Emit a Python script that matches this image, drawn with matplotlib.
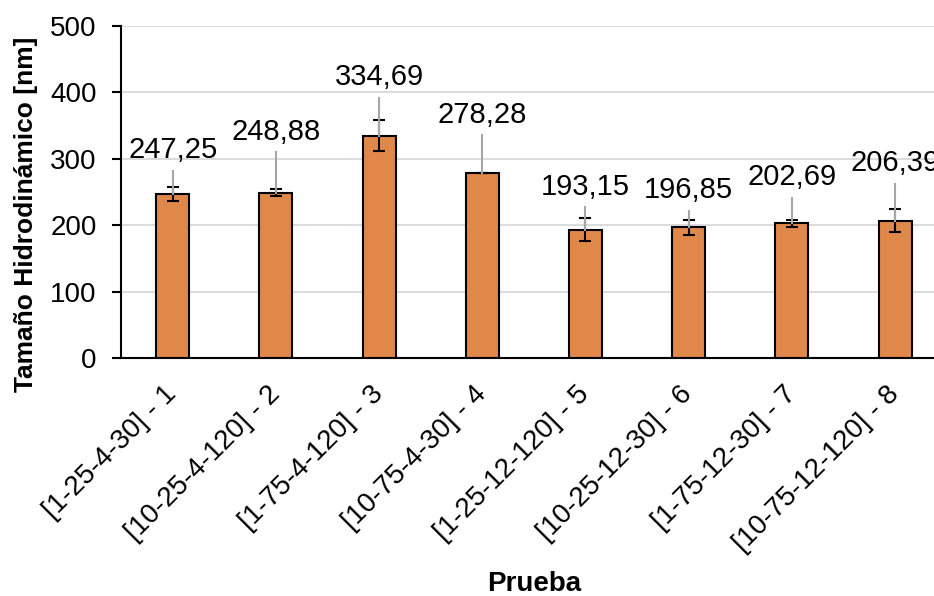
import numpy as np
import matplotlib
matplotlib.use("Agg")
import matplotlib.pyplot as plt

plt.rcParams['font.family'] = ['Liberation Sans', 'DejaVu Sans']

# ensayos y tamaño hidrodinámico medio
pruebas = ["[1-25-4-30] - 1", "[10-25-4-120] - 2", "[1-75-4-120] - 3",
           "[10-75-4-30] - 4", "[1-25-12-120] - 5", "[10-25-12-30] - 6",
           "[1-75-12-30] - 7", "[10-75-12-120] - 8"]
tamano = [247.25, 248.88, 334.69, 278.28, 193.15, 196.85, 202.69, 206.39]
error = [10.5, 5.5, 23.5, 0.0, 17.5, 11.5, 4.8, 17.3]

# altura de las etiquetas de valor (unidades del eje)
etiqueta_y = [312.5, 340.8, 423.2, 366.7, 258.0, 253.0, 272.6, 293.7]

fig = plt.figure(figsize=(9.34, 5.96), dpi=100)
ax = fig.add_axes([0.1296, 0.3993, 0.884, 0.5571])

x = np.arange(len(pruebas))
ax.bar(x, tamano, width=0.32, color='#E0874A', edgecolor='black',
       linewidth=1.5, zorder=3)
ax.errorbar(x, tamano, yerr=error, fmt='none', ecolor='black',
            elinewidth=1.5, capsize=4.5, capthick=1.5, zorder=4)

# etiquetas con línea guía hasta la barra
for xi, v, ly in zip(x, tamano, etiqueta_y):
    ax.text(xi, ly, f"{v:.2f}".replace('.', ','), ha='center', va='center',
            fontsize=21, color='black', zorder=5)
    ax.plot([xi, xi], [ly - 31, v], color='#a6a6a6', lw=1.5, zorder=5)

ax.set_xlim(-0.5, len(pruebas) - 0.5)
ax.set_ylim(0, 500)
ax.set_yticks(np.arange(0, 501, 100))
ax.yaxis.grid(True, color='#d9d9d9', linewidth=1.3, zorder=0)
ax.set_axisbelow(True)

ax.set_xticks(x)
ax.set_xticklabels(pruebas, rotation=45, ha='right', va='center',
                   rotation_mode='anchor', fontsize=20)
ax.tick_params(axis='x', length=0, pad=23)
ax.tick_params(axis='y', labelsize=20, length=6.5, width=1.5, pad=11)

for s in ['top', 'right']:
    ax.spines[s].set_visible(False)
for s in ['left', 'bottom']:
    ax.spines[s].set_linewidth(1.5)

ax.set_ylabel("Tamaño Hidrodinámico [nm]", fontsize=19, fontweight='bold')
ax.yaxis.set_label_coords(-0.100, 0.434)
ax.set_xlabel("Prueba", fontsize=20, fontweight='bold')
ax.xaxis.set_label_coords(0.5, -0.642)

fig.savefig("out.png", dpi=100)
